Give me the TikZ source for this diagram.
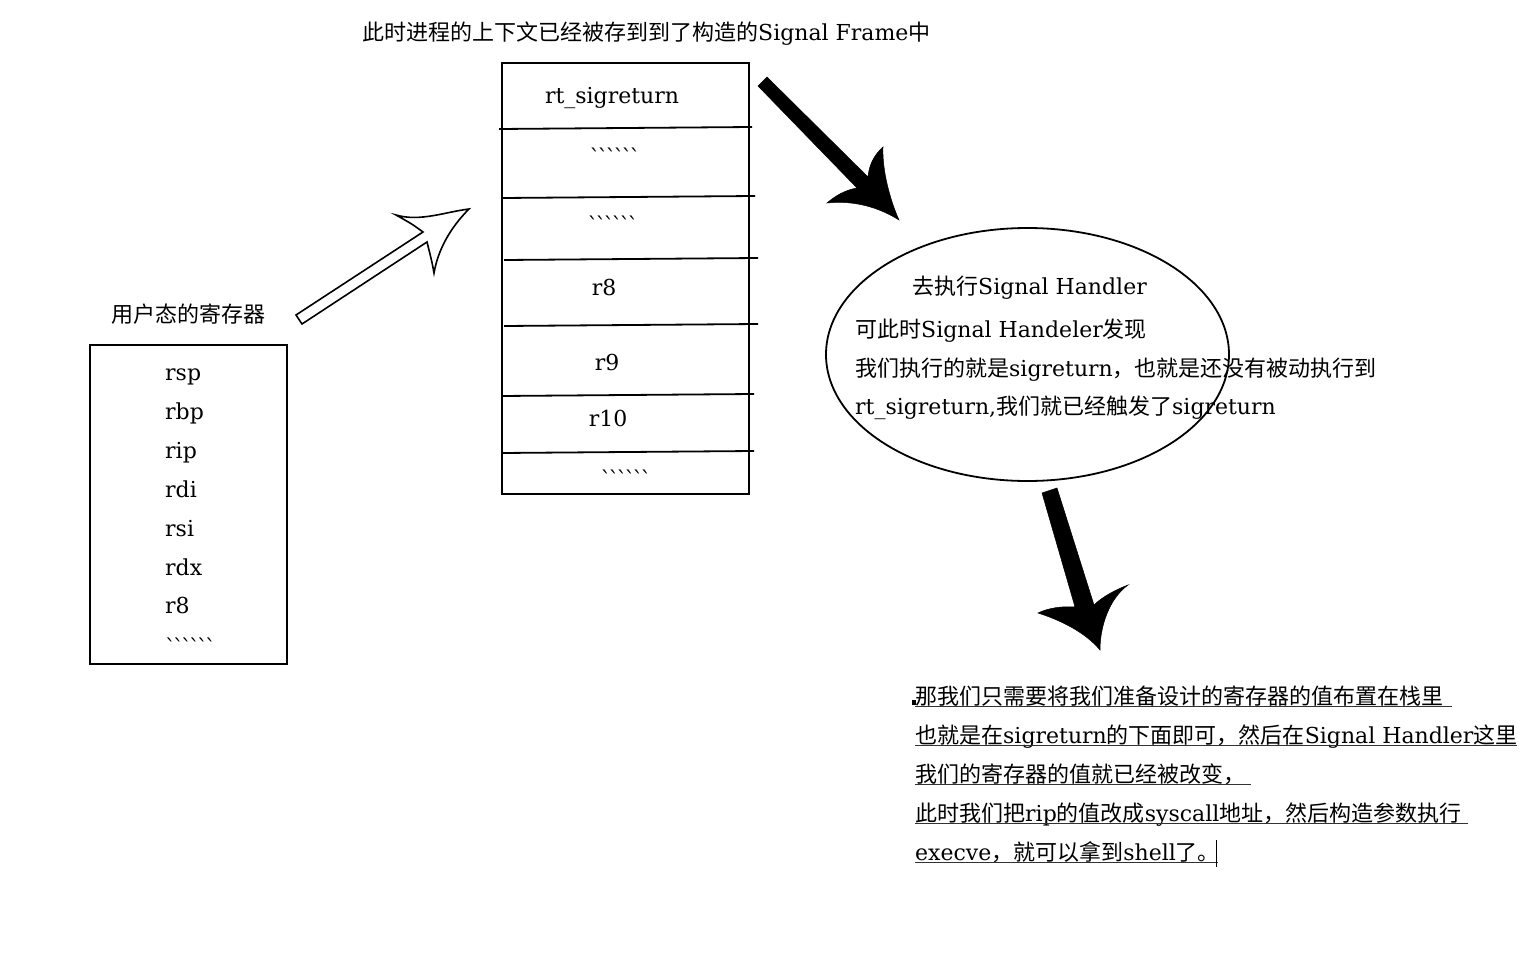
\documentclass[tikz,border=0pt]{standalone}
\usepackage{fontspec}
\setmainfont{DejaVu Serif}
\newfontfamily\cjk{Noto Sans CJK SC}
\usetikzlibrary{shapes.geometric}
\newcommand\zh[1]{{\cjk #1}}
\newcommand\bt{ˋ\kern-3pt ˋ\kern-3pt ˋ\kern-3pt ˋ\kern-3pt ˋ\kern-3pt ˋ}
\begin{document}
\begin{tikzpicture}[x=1pt,y=-1pt,
  txt/.style={font=\fontsize{22}{26}\selectfont, inner sep=0pt},
  box/.style={draw, line width=1.8pt, inner sep=0pt},
  rowline/.style={line width=1.8pt},
  hollowarrow/.style={draw, line width=1.6pt, fill=white, line join=miter},
  fatarrow/.style={fill=black, draw=black, line width=0.5pt},
  uline/.style={line width=1pt, draw=black!80}]
\useasboundingbox (0,0) rectangle (1534,971);
\fill[white] (0,0) rectangle (1534,971);

% title
\node[txt, anchor=base west] (title) at (362,41) {\zh{此时进程的上下文已经被存到到了构造的}Signal Frame\zh{中}};

% user registers
\node[txt, anchor=base] (reglabel) at (188,322) {\zh{用户态的寄存器}};
\node[box, minimum width=197pt, minimum height=319pt] (regbox) at (188.5,504.5) {};
\node[txt, anchor=base west] (rsp) at (165,380) {rsp};
\node[txt, anchor=base west] (rbp) at (165,419) {rbp};
\node[txt, anchor=base west] (rip) at (165,458) {rip};
\node[txt, anchor=base west] (rdi) at (165,497) {rdi};
\node[txt, anchor=base west] (rsi) at (165,536) {rsi};
\node[txt, anchor=base west] (rdx) at (165,575) {rdx};
\node[txt, anchor=base west] (r8a) at (165,613) {r8};
\node[txt, anchor=base west] (dotsa) at (165,655) {\bt};

% signal frame
\node[box, minimum width=247pt, minimum height=431pt] (frame) at (625.5,278.5) {};
\draw[rowline] (499,129) -- (752,127);
\draw[rowline] (502,198) -- (755,196);
\draw[rowline] (504,260) -- (758,258);
\draw[rowline] (504,326) -- (758,324);
\draw[rowline] (501,396) -- (754,394);
\draw[rowline] (501,453) -- (754,451);
\node[txt, anchor=base] (f1) at (612,104) {rt\_sigreturn};
\node[txt, anchor=base] (f2) at (615,165) {\bt};
\node[txt, anchor=base] (f3) at (613,233) {\bt};
\node[txt, anchor=base] (f4) at (604,295) {r8};
\node[txt, anchor=base] (f5) at (607,370) {r9};
\node[txt, anchor=base] (f6) at (608,426) {r10};
\node[txt, anchor=base] (f7) at (626,487) {\bt};

% hollow arrow
\path[hollowarrow] (296,315) -- (423,232) .. controls (412,224) .. (396,215)
  .. controls (420,222) and (445,212) .. (469,209)
  .. controls (450,228) and (438,250) .. (434,273)
  .. controls (432,262) .. (427,242) -- (302,324) -- cycle;

% black arrow 1
\path[fatarrow] (758,86) -- (857,188) .. controls (845,190) and (835,196) .. (827,203)
  .. controls (855,200) and (880,208) .. (899,220)
  .. controls (890,200) and (882,170) .. (883,147)
  .. controls (874,155) and (869,165) .. (868,177) -- (767,77) -- cycle;

% ellipse
\node[draw, ellipse, line width=1.8pt, minimum width=403pt, minimum height=253pt, inner sep=0pt] (ell) at (1027.5,354.5) {};
\node[txt, anchor=base west] (e1) at (912,294) {\zh{去执行}Signal Handler};
\node[txt, anchor=base west] (e2) at (855,337) {\zh{可此时}Signal Handeler\zh{发现}};
\node[txt, anchor=base west] (e3) at (855,376) {\zh{我们执行的就是}sigreturn\zh{，也就是还没有被动执行到}};
\node[txt, anchor=base west] (e4) at (855,414) {rt\_sigreturn,\zh{我们就已经触发了}sigreturn};

% black arrow 2
\path[fatarrow] (1042,493) -- (1075,607) .. controls (1062,606) and (1048,608) .. (1038,613)
  .. controls (1060,620) and (1085,632) .. (1100,650)
  .. controls (1100,625) and (1110,598) .. (1128,585)
  .. controls (1115,590) and (1102,597) .. (1094,605) -- (1057,488) -- cycle;

% bottom text
\node[txt, anchor=base west] (b1) at (915,704) {\zh{那我们只需要将我们准备设计的寄存器的值布置在栈里}};
\node[txt, anchor=base west] (b2) at (915,743) {\zh{也就是在}sigreturn\zh{的下面即可，然后在}Signal Handler\zh{这里}};
\node[txt, anchor=base west] (b3) at (915,782) {\zh{我们的寄存器的值就已经被改变，}};
\node[txt, anchor=base west] (b4) at (915,821) {\zh{此时我们把}rip\zh{的值改成}syscall\zh{地址，然后构造参数执行}};
\node[txt, anchor=base west] (b5) at (915,860) {execve\zh{，就可以拿到}shell\zh{了。}};
\draw[uline] (915,706) -- (1452,706);
\draw[uline] (915,745) -- (1517,745);
\draw[uline] (915,784) -- (1251,784);
\draw[uline] (915,823) -- (1468,823);
\draw[uline] (915,862) -- (1218,862);
\draw[line width=1pt] (1216,840) -- (1216,867);
\fill (912,700) rectangle (916,705);
\end{tikzpicture}
\end{document}
